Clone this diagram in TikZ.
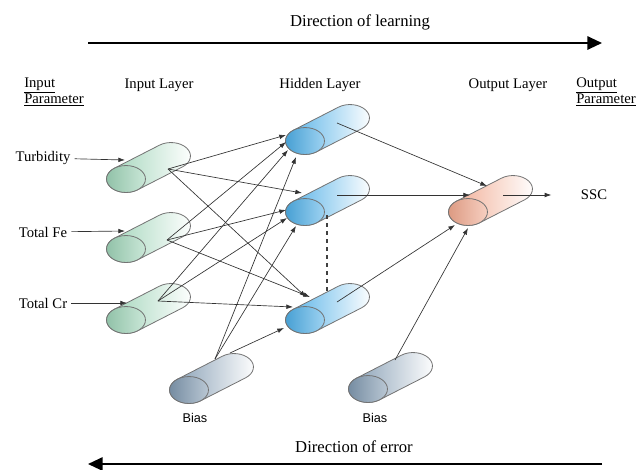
\documentclass[tikz,border=0pt]{standalone}
\usepackage{fontspec}
\setmainfont{Liberation Serif}
\newfontfamily\biasfont{Liberation Sans}
\usetikzlibrary{arrows.meta}

\definecolor{ingreen}{RGB}{158,211,183}
\definecolor{hidblue}{RGB}{78,174,230}
\definecolor{outsalmon}{RGB}{240,168,142}
\definecolor{biasgray}{RGB}{128,153,176}

% one neuron: name, front centre (px), colour
\newcommand{\neuron}[3]{%
  \coordinate (#1) at (#2);
  \begin{scope}[shift={(#2)}]
    \draw[cylline, left color=#3, middle color=#3!55!white, right color=white]
      (126.5:14.6pt and 10.1pt) -- ++(45,-23)
      arc[start angle=126.5, end angle=-53.5, x radius=14.6pt, y radius=10.1pt]
      -- ++(-45,23)
      arc[start angle=-53.5, end angle=-233.5, x radius=14.6pt, y radius=10.1pt] -- cycle;
    \draw[cylline, left color=#3!92!black, right color=#3!55!white]
      (0,0) ellipse[x radius=14.6pt, y radius=10.1pt];
  \end{scope}}

\begin{document}
\begin{tikzpicture}[x=0.75pt, y=-0.75pt,
    txt/.style={font=\fontsize{11}{12}\selectfont, inner sep=0pt},
    param/.style={font=\fontsize{11}{12}\selectfont, inner sep=3pt},
    cylline/.style={draw=black!55, line width=0.6pt},
    conn/.style={draw=black!80, line width=0.5pt, -{Latex[length=5pt,width=3.5pt]}},
    bigarrow/.style={line width=1.5pt, -{Triangle[length=11pt,width=10pt]}}]
    \useasboundingbox (0,0) rectangle (636,469);

    % direction arrows
    \node(learn)[txt, font=\fontsize{12.5}{14}\selectfont] at (360,22) {Direction of learning};
    \coordinate (l0) at (88,43);
    \coordinate (l1) at (602,43);
    \draw[bigarrow] (l0) -- (l1);
    \node(err)[txt, font=\fontsize{12.5}{14}\selectfont] at (354,447) {Direction of error};
    \coordinate (e0) at (602,464);
    \coordinate (e1) at (88,464);
    \draw[bigarrow] (e0) -- (e1);

    % headings
    \node(hinp)[txt, anchor=west, align=left] at (24,92) {\underline{Input}\\\underline{Parameter}};
    \node(hil)[txt] at (159,85) {Input Layer};
    \node(hhl)[txt] at (320,85) {Hidden Layer};
    \node(hol)[txt] at (508,85) {Output Layer};
    \node(hout)[txt, anchor=west, align=left] at (576,92) {\underline{Output}\\\underline{Parameter}};

    % neurons
    \neuron{in1}{126,179}{ingreen}
    \neuron{in2}{126,249}{ingreen}
    \neuron{in3}{126,320}{ingreen}
    \neuron{h1}{305,141}{hidblue}
    \neuron{h2}{305,212}{hidblue}
    \neuron{h3}{305,320}{hidblue}
    \neuron{o}{468,212}{outsalmon}
    \neuron{b1}{189,390}{biasgray}
    \neuron{b2}{368,389}{biasgray}

    \coordinate (in1o) at ([shift={(42,-10)}]in1);
    \coordinate (in2o) at ([shift={(41,-9)}]in2);
    \coordinate (in3o) at ([shift={(32,-19)}]in3);
    \coordinate (h1o) at ([shift={(32,-18)}]h1);
    \coordinate (h2o) at ([shift={(32,-17)}]h2);
    \coordinate (h3o) at ([shift={(32,-18)}]h3);
    \coordinate (oo) at ([shift={(35,-17)}]o);
    \coordinate (b1o) at ([shift={(26,-31)}]b1);
    \coordinate (b1q) at ([shift={(41,-37)}]b1);
    \coordinate (b2o) at ([shift={(27,-29)}]b2);

    % inputs and output
    \node(turb)[param] at (43,158) {Turbidity};
    \node(fe)[param] at (43,232) {Total Fe};
    \node(cr)[param] at (43,303) {Total Cr};
    \node(ssc)[param] at (594,195) {SSC};
    \draw[conn] (turb) -- ([shift={(-1,-19)}]in1);
    \draw[conn] (fe) -- ([shift={(-1,-18)}]in2);
    \draw[conn] (cr) -- ([shift={(1,-17)}]in3);
    \draw[conn] (oo) -- ([xshift=-19pt]ssc.west);

    % input -> hidden
    \draw[conn] (in1o) -- ([shift={(-19,-6)}]h1);
    \draw[conn] (in2o) -- ([shift={(-19,1)}]h1);
    \draw[conn] (in3o) -- ([shift={(-17,9)}]h1);
    \draw[conn] (b1o) -- ([shift={(-9,16)}]h1);
    \draw[conn] (in1o) -- ([shift={(-3,-19)}]h2);
    \draw[conn] (in2o) -- ([shift={(-19,-2)}]h2);
    \draw[conn] (in3o) -- ([shift={(-18,6)}]h2);
    \draw[conn] (b1o) -- ([shift={(-9,14)}]h2);
    \draw[conn] (in1o) -- ([shift={(1,-23)}]h3);
    \draw[conn] (in2o) -- ([shift={(5,-23)}]h3);
    \draw[conn] (in3o) -- ([shift={(-12,-13)}]h3);
    \draw[conn] (b1q) -- ([shift={(-21,8)}]h3);

    % hidden -> output
    \draw[conn] (h1o) -- ([shift={(19,-26)}]o);
    \draw[conn] (h2o) -- ([shift={(2,-17)}]o);
    \draw[conn] (h3o) -- ([shift={(-13,13)}]o);
    \draw[conn] (b2o) -- ([shift={(0,16)}]o);
    \draw[line width=0.8pt, dashed, black!75] ([shift={(22,3)}]h2) -- ([shift={(22,-28)}]h3);

    % bias labels
    \node(bl1)[txt, font=\biasfont\fontsize{9.5}{11}\selectfont] at (195,418) {Bias};
    \node(bl2)[txt, font=\biasfont\fontsize{9.5}{11}\selectfont] at (375,418) {Bias};
  \end{tikzpicture}
\end{document}
